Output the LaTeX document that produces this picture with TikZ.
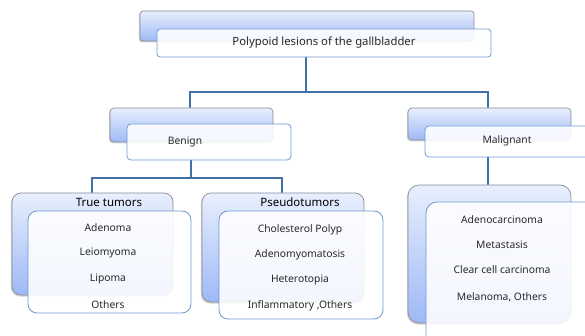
\documentclass[tikz,border=0pt]{standalone}
\usepackage{fontspec}
\setmainfont{Noto Sans}
\usetikzlibrary{shadows}
\pgfdeclarelayer{bg}
\pgfsetlayers{bg,main}
\definecolor{backtop}{RGB}{232,239,253}
\definecolor{backbot}{RGB}{158,185,246}
\definecolor{backedge}{RGB}{140,140,150}
\definecolor{frontedge}{RGB}{112,152,212}
\definecolor{connc}{RGB}{65,113,166}
\definecolor{txt}{RGB}{40,40,40}
\begin{document}
\begin{tikzpicture}[x=1pt,y=-1pt,
  box/.style={anchor=north west, inner sep=0pt, outer sep=0pt},
  backbox/.style={box, draw=backedge, line width=0.7pt, top color=backtop, bottom color=backbot,
    drop shadow={shadow xshift=-1.2pt, shadow yshift=-1.5pt, opacity=0.35}},
  frontbox/.style={box, draw=frontedge, line width=0.8pt, fill=white, fill opacity=0.88, text opacity=1},
  conn/.style={draw=connc, line width=1.6pt},
  lbl/.style={font=\fontsize{10.3}{12}\selectfont, text=txt, inner sep=0pt},
  ttl/.style={font=\fontsize{11.5}{13}\selectfont\bfseries, text=black, inner sep=0pt}
]
\clip (0,0) rectangle (585,336);
\useasboundingbox (0,0) rectangle (585,336);

% top
\node[backbox, rounded corners=3pt, minimum width=334pt, minimum height=30pt] (topB) at (140,11) {};
\node[frontbox, rounded corners=3pt, minimum width=334pt, minimum height=28pt] (topF) at (157,29) {};
\node[lbl, font=\fontsize{11.3}{13}\selectfont] (topT) at (324,43) {Polypoid lesions of the gallbladder};

% benign
\node[backbox, rounded corners=4pt, minimum width=163pt, minimum height=34pt] (benB) at (110,108) {};
\node[frontbox, rounded corners=4pt, minimum width=164pt, minimum height=36pt] (benF) at (127,124) {};
\node[lbl] (benT) at (185,142) {Benign};

% malignant
\node[backbox, rounded corners=4pt, minimum width=163pt, minimum height=32pt] (malB) at (408,108) {};
\node[frontbox, rounded corners=4pt, minimum width=166pt, minimum height=31pt] (malF) at (425,126) {};
\node[lbl] (malT) at (507,141) {Malignant};

% true tumors
\node[backbox, rounded corners=9pt, minimum width=161pt, minimum height=102pt] (ttB) at (12,193) {};
\node[frontbox, rounded corners=9pt, minimum width=163pt, minimum height=102pt] (ttF) at (28,211) {};
\node[ttl] (ttT) at (109,202) {True tumors};
\node[lbl] (tt1) at (108,228) {Adenoma};
\node[lbl] (tt2) at (108,253) {Leiomyoma};
\node[lbl] (tt3) at (108,279) {Lipoma};
\node[lbl] (tt4) at (108,305) {Others};

% pseudotumors
\node[backbox, rounded corners=9pt, minimum width=162pt, minimum height=109pt] (ptB) at (202,193) {};
\node[frontbox, rounded corners=9pt, minimum width=164pt, minimum height=108pt] (ptF) at (219,211) {};
\node[ttl] (ptT) at (300,202) {Pseudotumors};
\node[lbl] (pt1) at (300,230) {Cholesterol Polyp};
\node[lbl] (pt2) at (300,255) {Adenomyomatosis};
\node[lbl] (pt3) at (300,280) {Heterotopia};
\node[lbl] (pt4) at (300,306) {Inflammatory ,Others};

% malignant children
\node[backbox, rounded corners=11pt, minimum width=163pt, minimum height=138pt] (mcB) at (408,185) {};
\node[frontbox, rounded corners=11pt, minimum width=170pt, minimum height=145pt] (mcF) at (426,202) {};
\node[lbl] (mc1) at (502,220) {Adenocarcinoma};
\node[lbl] (mc2) at (502,245) {Metastasis};
\node[lbl] (mc3) at (502,270) {Clear cell carcinoma};
\node[lbl] (mc4) at (502,297) {Melanoma, Others};

% junctions
\coordinate (j0) at (306,92);
\coordinate (jb) at (190,92);
\coordinate (jm) at (488,92);
\coordinate (k0) at (191,178);
\coordinate (kt) at (92,178);
\coordinate (kp) at (282,178);

\begin{pgfonlayer}{bg}
\draw[conn] (topF.south -| j0) -- (j0);
\draw[conn] (benB.north -| jb) |- (j0) -| (malB.north -| jm);
\draw[conn] (benF.south -| k0) -- (k0);
\draw[conn] (ttB.north -| kt) |- (k0) -| (ptB.north -| kp);
\draw[conn] (malF.south -| jm) -- (mcB.north -| jm);
\end{pgfonlayer}
\end{tikzpicture}
\end{document}
